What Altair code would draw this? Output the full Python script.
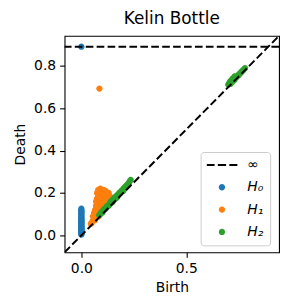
import math
import altair as alt
import pandas as pd

TITLE = "Kelin Bottle"
X_TITLE = "Birth"
Y_TITLE = "Death"
LABELS = ["∞", "H₀", "H₁", "H₂"]
COLORS = ["black", "#1f77b4", "#ff7f0e", "#2ca02c"]

AX_LO = -0.08
AX_HI = 0.942
INF_LEVEL = 0.891

X_TICKS = [0.0, 0.5]
Y_TICKS = [0.0, 0.2, 0.4, 0.6, 0.8]

# H0: all born at 0
h0_births = [0.0] * 30
h0_deaths = [0.004, 0.008, 0.012, 0.015, 0.019, 0.022, 0.026, 0.029, 0.033, 0.037,
             0.041, 0.045, 0.049, 0.053, 0.057, 0.061, 0.065, 0.069, 0.073, 0.078,
             0.082, 0.087, 0.092, 0.097, 0.103, 0.108, 0.114, 0.119, 0.126, math.inf]

h1_births = [0.045, 0.05, 0.055, 0.06, 0.065, 0.07, 0.075, 0.08, 0.085, 0.09,
             0.095, 0.1, 0.105, 0.11, 0.115, 0.12, 0.125, 0.13, 0.14, 0.15,
             0.16, 0.17,
             0.055, 0.06, 0.065, 0.07, 0.07, 0.075, 0.075, 0.08, 0.085, 0.09,
             0.095, 0.1, 0.105, 0.11, 0.115, 0.12, 0.125, 0.13, 0.135, 0.14,
             0.08, 0.085, 0.09, 0.095, 0.1, 0.105, 0.11, 0.115, 0.12, 0.125,
             0.13, 0.08, 0.09, 0.065, 0.075,
             0.086]
h1_deaths = [0.055, 0.06, 0.07, 0.075, 0.072, 0.085, 0.09, 0.088, 0.1, 0.105,
             0.11, 0.115, 0.12, 0.125, 0.13, 0.135, 0.14, 0.145, 0.155, 0.165,
             0.175, 0.185,
             0.09, 0.105, 0.12, 0.14, 0.16, 0.175, 0.2, 0.215, 0.205, 0.22,
             0.21, 0.2, 0.215, 0.205, 0.21, 0.2, 0.19, 0.2, 0.185, 0.175,
             0.13, 0.15, 0.17, 0.14, 0.16, 0.18, 0.15, 0.17, 0.16, 0.165,
             0.17, 0.185, 0.195, 0.1, 0.11,
             0.693]

h2_births = [0.085, 0.09, 0.095, 0.1, 0.105, 0.11, 0.115, 0.12, 0.125, 0.13,
             0.135, 0.14, 0.145, 0.15, 0.155, 0.16, 0.165, 0.17, 0.175, 0.18,
             0.185, 0.19, 0.195, 0.2, 0.205, 0.21, 0.215, 0.22, 0.225, 0.23,
             0.235, 0.15, 0.17, 0.2,
             0.70, 0.705, 0.71, 0.715, 0.72, 0.725, 0.73, 0.735, 0.74, 0.745,
             0.75, 0.755, 0.76, 0.765, 0.77, 0.775, 0.78, 0.71, 0.72, 0.73]
h2_deaths = [0.095, 0.1, 0.11, 0.108, 0.12, 0.125, 0.125, 0.135, 0.14, 0.14,
             0.15, 0.16, 0.155, 0.17, 0.17, 0.18, 0.175, 0.19, 0.19, 0.2,
             0.2, 0.21, 0.21, 0.22, 0.225, 0.23, 0.235, 0.24, 0.245, 0.255,
             0.262, 0.16, 0.18, 0.21,
             0.712, 0.72, 0.715, 0.73, 0.725, 0.738, 0.735, 0.745, 0.748, 0.755,
             0.757, 0.765, 0.768, 0.775, 0.778, 0.785, 0.79, 0.728, 0.74, 0.75]

FONT = "DejaVu Sans"

rows = []
for lab, bs, ds in [(LABELS[1], h0_births, h0_deaths),
                    (LABELS[2], h1_births, h1_deaths),
                    (LABELS[3], h2_births, h2_deaths)]:
    for b, d in zip(bs, ds):
        rows.append({"birth": b, "death": INF_LEVEL if math.isinf(d) else d, "dim": lab})
points_df = pd.DataFrame(rows)
diag_df = pd.DataFrame({"birth": [AX_LO, AX_HI], "death": [AX_LO, AX_HI]})
inf_df = pd.DataFrame({"death": [INF_LEVEL]})

xscale = alt.Scale(domain=[AX_LO, AX_HI], nice=False, zero=False)
yscale = alt.Scale(domain=[AX_LO, AX_HI], nice=False, zero=False)

# symbol shapes (unit box -1..1, drawn at size 961 -> 31 px wide)
DASH_PATH = ("M-1,-0.065H-0.48V0.065H-1Z "
             "M-0.27,-0.065H0.27V0.065H-0.27Z "
             "M0.48,-0.065H1V0.065H0.48Z")
DOT_PATH = "M0,-0.205A0.205,0.205,0,1,1,0,0.205A0.205,0.205,0,1,1,0,-0.205Z"
SHAPES = [DASH_PATH, DOT_PATH, DOT_PATH, DOT_PATH]
SYM = 961

legend = alt.Legend(
    title=None, orient="none", legendX=137, legendY=117,
    labelFont=FONT, labelFontSize=14, labelFontStyle="italic", labelColor="black",
    symbolSize=SYM, clipHeight=14, rowPadding=8.5, labelOffset=10,
    symbolOpacity=1, symbolStrokeWidth=0,
    padding=6, fillColor="rgba(255,255,255,0.8)", strokeColor="#cccccc",
    cornerRadius=3,
)

x_enc = alt.X("birth:Q", scale=xscale, title=X_TITLE,
              axis=alt.Axis(values=X_TICKS, format=".1f"))
y_enc = alt.Y("death:Q", scale=yscale, title=Y_TITLE,
              axis=alt.Axis(values=Y_TICKS, format=".1f"))

pts = alt.Chart(points_df).mark_point(filled=True, size=SYM, opacity=1, strokeWidth=0).encode(
    x=x_enc, y=y_enc,
    color=alt.Color("dim:N", scale=alt.Scale(domain=LABELS, range=COLORS), legend=legend),
    shape=alt.Shape("dim:N", scale=alt.Scale(domain=LABELS, range=SHAPES), legend=legend),
)
diag = alt.Chart(diag_df).mark_line(color="black", strokeDash=[7.7, 3.3], strokeWidth=2, clip=True).encode(
    x=alt.X("birth:Q", scale=xscale), y=alt.Y("death:Q", scale=yscale))
infl = alt.Chart(inf_df).mark_rule(color="black", strokeDash=[7.7, 3.3], strokeWidth=2).encode(
    y=alt.Y("death:Q", scale=yscale))

chart = alt.layer(pts, diag, infl).properties(
    width=216, height=218,
    title=alt.Title(TITLE, font=FONT, fontSize=17, fontWeight="normal", color="black", offset=8),
    padding={"left": 57, "top": 27, "right": 5, "bottom": 47},
    autosize=alt.AutoSizeParams(type="none"),
).configure_view(stroke="black", strokeWidth=1.1).configure_axis(
    domain=False, grid=False, ticks=True, tickColor="black", tickSize=5, tickWidth=1.1,
    labelFont=FONT, labelFontSize=14, labelColor="black", labelPadding=4,
    titleFont=FONT, titleFontSize=14, titleFontWeight="normal", titleColor="black",
    titlePadding=6,
)

chart.save("out.html", embed_options={"renderer": "svg", "actions": False})
